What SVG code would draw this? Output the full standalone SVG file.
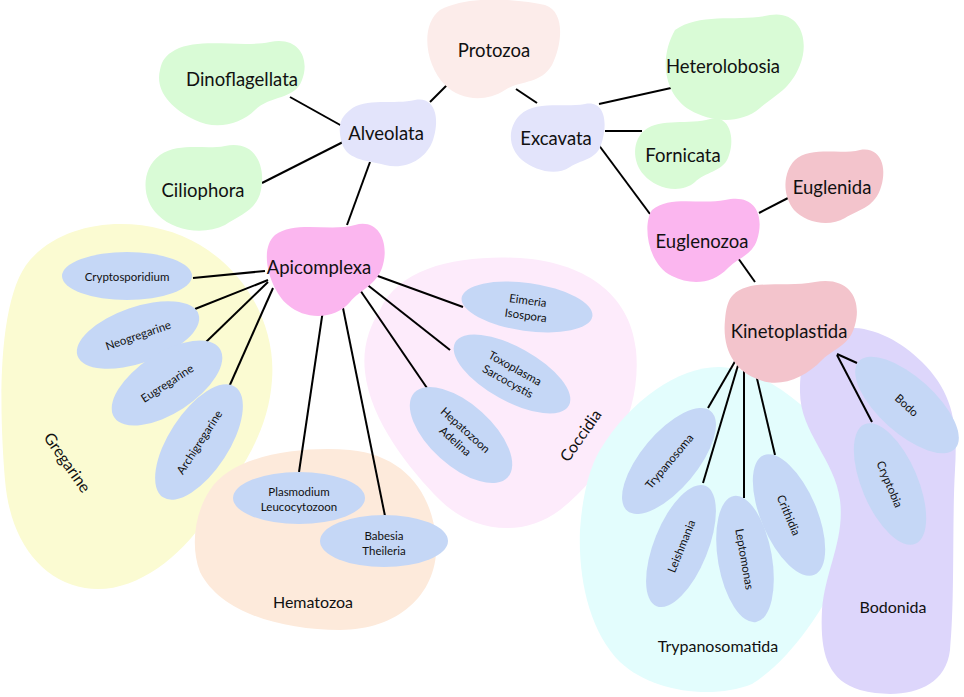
<svg xmlns="http://www.w3.org/2000/svg" width="964" height="697" viewBox="0 0 964 697">
<style>
text{font-family:Lato,"Open Sans","Liberation Sans",sans-serif;fill:#111;text-anchor:middle;dominant-baseline:central}
.n{font-size:18.5px}
.l{font-size:11.5px}
.g{font-size:16px}
.leaf{fill:#c5d7f6}
.green{fill:#d9fbd6}
.lav{fill:#e3e4fb}
.mag{fill:#fbb6ef}
.rose{fill:#f3c4cc}
#connectors line{stroke:#000;stroke-width:2}
</style>
<rect width="964" height="697" fill="#fff"/>
<g id="groups">
<g id="grp-gregarine"><path d="M 30,260 C 70,215 150,215 200,245 C 250,275 276,330 272,380 C 268,440 232,482 205,520 C 178,560 130,596 85,588 C 40,580 10,540 5,480 C 0,420 -5,300 30,260 Z" fill="#fbfbd2"/><text class="g" transform="translate(68,462) rotate(55)">Gregarine</text></g>
<g id="grp-hematozoa"><path d="M 210,490 C 232,455 300,446 350,450 C 402,455 432,490 436,540 C 440,592 400,630 340,630 C 280,630 220,612 200,572 C 190,546 195,512 210,490 Z" fill="#fdeadb"/><text class="g" x="313" y="601">Hematozoa</text></g>
<g id="grp-coccidia"><path d="M 380,310 C 400,266 460,255 520,258 C 582,262 630,292 636,350 C 642,412 610,470 560,510 C 520,540 470,530 440,500 C 410,470 370,420 365,372 C 362,346 370,326 380,310 Z" fill="#fdebfb"/><text class="g" transform="translate(580,435) rotate(-55)">Coccidia</text></g>
<g id="grp-trypanosomatida"><path d="M 600,450 C 630,400 680,366 720,367 C 762,369 800,400 838,440 C 862,466 860,530 842,570 C 822,612 790,660 752,684 C 712,700 652,692 620,662 C 590,632 578,580 580,530 C 582,500 588,470 600,450 Z" fill="#e3fdfd"/><text class="g" x="718" y="645">Trypanosomatida</text></g>
<g id="grp-bodonida"><path d="M 820,335 C 852,318 892,332 922,362 C 952,392 958,422 955,470 C 952,520 955,600 950,650 C 945,692 900,700 860,690 C 826,680 820,650 822,610 C 825,570 845,540 840,500 C 835,460 800,432 800,392 C 800,362 806,344 820,335 Z" fill="#ddd6fb"/><text class="g" x="893" y="606">Bodonida</text></g>
</g>
<g id="connectors">
<line x1="449" y1="83" x2="430" y2="102"/>
<line x1="516" y1="89" x2="537" y2="103"/>
<line x1="290" y1="97" x2="342" y2="126"/>
<line x1="262" y1="183" x2="343" y2="142"/>
<line x1="370" y1="162" x2="347" y2="225"/>
<line x1="599" y1="104" x2="671" y2="88"/>
<line x1="605" y1="131" x2="642" y2="131"/>
<line x1="598" y1="144" x2="650" y2="214"/>
<line x1="759" y1="213" x2="788" y2="198"/>
<line x1="738" y1="258" x2="755" y2="282"/>
<line x1="193" y1="278" x2="265" y2="271"/>
<line x1="195" y1="309" x2="268" y2="280"/>
<line x1="205" y1="343" x2="268" y2="282"/>
<line x1="229" y1="387" x2="273" y2="288"/>
<line x1="323" y1="310" x2="299" y2="472"/>
<line x1="343" y1="308" x2="385" y2="516"/>
<line x1="375" y1="275" x2="463" y2="307"/>
<line x1="365" y1="283" x2="450" y2="350"/>
<line x1="360" y1="290" x2="427" y2="388"/>
<line x1="737" y1="358" x2="708" y2="408"/>
<line x1="739" y1="362" x2="703" y2="483"/>
<line x1="744" y1="363" x2="744" y2="498"/>
<line x1="755" y1="370" x2="775" y2="455"/>
<line x1="837" y1="354" x2="857" y2="363"/>
<line x1="837" y1="355" x2="872" y2="422"/>
</g>
<g id="protozoa"><path style="fill:#fcecea" d="M 440,10 C 470,-6 520,0 545,5 C 566,12 562,45 552,65 C 540,85 520,80 505,90 C 485,103 460,100 445,85 C 425,65 420,25 440,10 Z"/><text class="n" x="494" y="50">Protozoa</text></g>
<g id="alveolata"><path class="lav" d="M 350,110 C 365,97 395,105 415,100 C 436,96 440,120 433,140 C 426,160 405,170 385,165 C 365,160 345,160 341,140 C 338,125 340,118 350,110 Z"/><text class="n" x="386" y="133">Alveolata</text></g>
<g id="dinoflagellata"><path class="green" d="M 175,50 C 200,37 240,48 270,42 C 300,36 310,60 302,80 C 295,100 270,95 255,110 C 240,125 215,130 195,120 C 170,108 155,90 160,70 C 162,60 166,55 175,50 Z"/><text class="n" x="242" y="79">Dinoflagellata</text></g>
<g id="ciliophora"><path class="green" d="M 160,155 C 180,142 205,150 225,146 C 255,140 266,165 261,190 C 257,210 240,215 225,225 C 205,235 175,232 158,215 C 142,200 140,170 160,155 Z"/><text class="n" x="203" y="190">Ciliophora</text></g>
<g id="excavata"><path class="lav" d="M 520,115 C 535,100 565,108 585,104 C 606,100 608,125 601,145 C 596,160 580,160 570,167 C 555,177 535,170 522,160 C 508,148 507,128 520,115 Z"/><text class="n" x="556" y="138">Excavata</text></g>
<g id="heterolobosia"><path class="green" d="M 675,30 C 700,12 740,22 770,15 C 800,10 810,40 800,65 C 790,90 775,95 760,108 C 740,125 710,122 690,110 C 665,95 658,60 675,30 Z"/><text class="n" x="723" y="66">Heterolobosia</text></g>
<g id="fornicata"><path class="green" d="M 645,130 C 660,118 690,125 710,119 C 730,114 736,140 728,158 C 722,172 705,172 695,182 C 680,195 655,188 644,175 C 632,162 632,140 645,130 Z"/><text class="n" x="683" y="155">Fornicata</text></g>
<g id="euglenozoa"><path class="mag" d="M 652,210 C 670,195 700,205 725,200 C 755,193 765,215 757,240 C 752,255 738,258 728,268 C 712,285 690,285 672,276 C 648,265 642,225 652,210 Z"/><text class="n" x="702" y="241">Euglenozoa</text></g>
<g id="euglenida"><path class="rose" d="M 795,160 C 810,146 840,155 860,150 C 882,146 888,170 880,190 C 873,208 858,210 845,218 C 828,228 805,222 794,210 C 782,195 783,172 795,160 Z"/><text class="n" x="832" y="187">Euglenida</text></g>
<g id="kinetoplastida"><path class="rose" d="M 733,295 C 750,278 785,288 815,282 C 850,276 862,300 855,325 C 850,345 835,348 822,360 C 805,378 780,388 760,380 C 735,372 722,350 725,320 C 726,308 728,300 733,295 Z"/><text class="n" x="789" y="331">Kinetoplastida</text></g>
<g id="apicomplexa"><path class="mag" d="M 275,235 C 295,220 330,232 355,225 C 380,218 390,245 382,268 C 376,285 360,290 350,302 C 335,320 305,320 288,305 C 270,290 258,250 275,235 Z"/><text class="n" x="319" y="267">Apicomplexa</text></g>
<g id="cryptosporidium"><ellipse class="leaf" cx="127" cy="276" rx="65" ry="24"/><text class="l" x="127" y="276">Cryptosporidium</text></g>
<g id="neogregarine" transform="translate(138,335) rotate(-19)"><ellipse class="leaf" rx="64" ry="28"/><text class="l">Neogregarine</text></g>
<g id="eugregarine" transform="translate(167,383) rotate(-33)"><ellipse class="leaf" rx="63" ry="30"/><text class="l">Eugregarine</text></g>
<g id="archigregarine" transform="translate(199,442) rotate(-57)"><ellipse class="leaf" rx="66" ry="30"/><text class="l">Archigregarine</text></g>
<g id="plasmodium"><ellipse class="leaf" cx="299" cy="498" rx="66" ry="26"/><text class="l" x="299" y="491">Plasmodium</text><text class="l" x="299" y="506">Leucocytozoon</text></g>
<g id="babesia"><ellipse class="leaf" cx="384" cy="541" rx="64" ry="26"/><text class="l" x="384" y="535">Babesia</text><text class="l" x="384" y="550">Theileria</text></g>
<g id="hepatozoon" transform="translate(461,435) rotate(42)"><ellipse class="leaf" rx="63" ry="31"/><text class="l" y="-7">Hepatozoon</text><text class="l" y="8">Adelina</text></g>
<g id="toxoplasma" transform="translate(512,374) rotate(29)"><ellipse class="leaf" rx="65" ry="27"/><text class="l" y="-7">Toxoplasma</text><text class="l" y="8">Sarcocystis</text></g>
<g id="eimeria" transform="translate(527,307) rotate(8)"><ellipse class="leaf" rx="66" ry="24"/><text class="l" y="-7">Eimeria</text><text class="l" y="8">Isospora</text></g>
<g id="trypanosoma" transform="translate(669,461) rotate(-50)"><ellipse class="leaf" rx="65" ry="28"/><text class="l">Trypanosoma</text></g>
<g id="leishmania" transform="translate(681,546) rotate(-68)"><ellipse class="leaf" rx="65" ry="27"/><text class="l">Leishmania</text></g>
<g id="leptomonas" transform="translate(745,559) rotate(80)"><ellipse class="leaf" rx="64" ry="27"/><text class="l">Leptomonas</text></g>
<g id="crithidia" transform="translate(789,515) rotate(67)"><ellipse class="leaf" rx="65" ry="28"/><text class="l">Crithidia</text></g>
<g id="bodo" transform="translate(907,405) rotate(42)"><ellipse class="leaf" rx="65" ry="28"/><text class="l">Bodo</text></g>
<g id="cryptobia" transform="translate(890,484) rotate(67)"><ellipse class="leaf" rx="65" ry="28"/><text class="l">Cryptobia</text></g>
</svg>
